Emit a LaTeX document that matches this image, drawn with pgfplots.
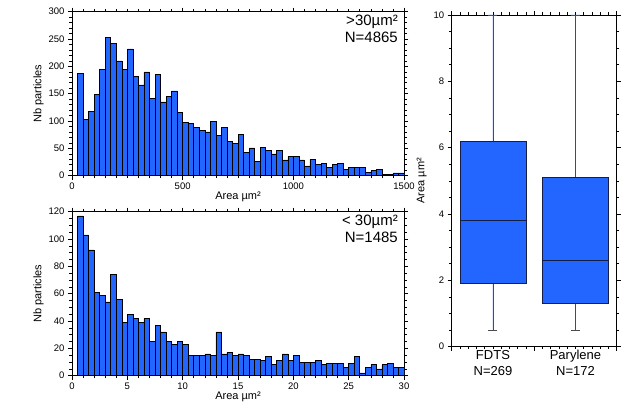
\documentclass[border=0pt]{standalone}
\usepackage{fontspec}
\setmainfont{Liberation Sans}
\usepackage{pgfplots}
\pgfplotsset{compat=1.18}
\usepgfplotslibrary{statistics}
\definecolor{barblue}{RGB}{34,102,255}
\definecolor{boxedge}{RGB}{20,30,70}

% histogram counts, left edge of each bin (last row closes the final bin)
\pgfplotstableread{
x y
25 187
50 103
75 118
100 148
125 194
150 253
175 242
200 210
225 194
250 232
275 182
300 166
325 190
350 141
375 186
400 135
425 145
450 155
475 116
500 98
525 96
550 89
575 83
600 80
625 100
650 74
675 89
700 63
725 59
750 76
775 43
800 51
825 26
850 52
875 47
900 40
925 46
950 29
975 35
1000 35
1025 29
1050 18
1075 30
1100 21
1125 23
1150 15
1175 20
1200 23
1225 12
1250 15
1275 15
1300 15
1325 6
1350 9
1375 12
1400 3
1425 3
1450 5
1475 5
1500 0
}\bigbins

\pgfplotstableread{
x y
0.5 117
1.0 103
1.5 92
2.0 61
2.5 59
3.0 54
3.5 74
4.0 56
4.5 39
5.0 45
5.5 42
6.0 39
6.5 42
7.0 25
7.5 37
8.0 32
8.5 25
9.0 23
9.5 25
10.0 23
10.5 15
11.0 15
11.5 15
12.0 16
12.5 15
13.0 32
13.5 16
14.0 17
14.5 15
15.0 16
15.5 15
16.0 12
16.5 12
17.0 11
17.5 14
18.0 8
18.5 11
19.0 16
19.5 11
20.0 15
20.5 10
21.0 10
21.5 10
22.0 11
22.5 8
23.0 9
23.5 9
24.0 9
24.5 6
25.0 9
25.5 14
26.0 2
26.5 6
27.0 8
27.5 5
28.0 8
28.5 9
29.0 6
29.5 6
30.0 0
}\smallbins

\pgfplotsset{
  panel/.style={
    scale only axis, anchor=south west,
    axis line style={line width=0.8pt},
    tick align=outside, tick pos=both,
    major tick length=4pt, minor tick length=2.5pt,
    every tick/.style={black, line width=0.6pt},
    tick label style={font=\fontsize{9.5}{10}\selectfont},
    label style={font=\fontsize{11}{12}\selectfont},
    /pgf/number format/assume math mode=true,
    /pgf/number format/1000 sep={},
  },
  hist/.style={panel, width=332pt, height=164pt,
    ylabel={Nb particles},
    xlabel={Area µm²},
    xlabel style={yshift=5pt},
    ylabel style={yshift=-2pt},
  },
}

\begin{document}
\begin{tikzpicture}
\useasboundingbox (0,0) rectangle (628pt,407pt);

% top histogram
\begin{axis}[hist, at={(72pt,231.3pt)},
  xmin=0, xmax=1500, ymin=0, ymax=300,
  xtick={0,500,1000,1500}, minor x tick num=9,
  ytick={0,50,...,300}, minor y tick num=4]
\addplot[ybar interval, fill=barblue, draw=black, line width=0.6pt] table {\bigbins};
\node[anchor=north east, align=right, inner sep=1pt,
      font=\fontsize{15}{17}\selectfont] at (rel axis cs:0.985,0.985) {>30µm²\\N=4865};
\end{axis}

% bottom histogram
\begin{axis}[hist, at={(72pt,31.3pt)},
  xmin=0, xmax=30, ymin=0, ymax=120,
  xtick={0,5,...,30}, minor x tick num=4,
  ytick={0,20,...,120}, minor y tick num=3]
\addplot[ybar interval, fill=barblue, draw=black, line width=0.6pt] table {\smallbins};
\node[anchor=north east, align=right, inner sep=1pt,
      font=\fontsize{15}{17}\selectfont] at (rel axis cs:0.985,0.985) {< 30µm²\\N=1485};
\end{axis}

% box plots
\begin{axis}[panel, at={(451.7pt,60.3pt)}, width=165pt, height=331.7pt,
  clip=false,
  xmin=0.5, xmax=2.5, ymin=0, ymax=10,
  xtick={0.5,1.5,2.5}, xticklabels={}, minor x tick num=9,
  extra x ticks={1,2},
  extra x tick labels={{FDTS\\N=269},{Parylene\\N=172}},
  extra x tick style={major tick length=0pt,
    tick label style={align=center, font=\fontsize{13}{16}\selectfont}},
  ytick={0,2,...,10}, minor y tick num=3,
  ylabel={Area µm²},
  boxplot/draw direction=y,
  boxplot/every box/.style={draw=boxedge, line width=0.9pt},
  boxplot/every whisker/.style={draw=black!70, line width=0.7pt},
  boxplot/every median/.style={draw=boxedge, line width=1pt},
]
\addplot[fill=barblue, boxplot prepared={draw position=1,
  lower whisker=0.5, lower quartile=1.9, median=3.8,
  upper quartile=6.2, upper whisker=10,
  box extend=0.8, whisker extend=0.11}] coordinates {};
\addplot[fill=barblue, boxplot prepared={draw position=2,
  lower whisker=0.5, lower quartile=1.3, median=2.6,
  upper quartile=5.1, upper whisker=10,
  box extend=0.8, whisker extend=0.11}] coordinates {};
\end{axis}
\end{tikzpicture}
\end{document}
